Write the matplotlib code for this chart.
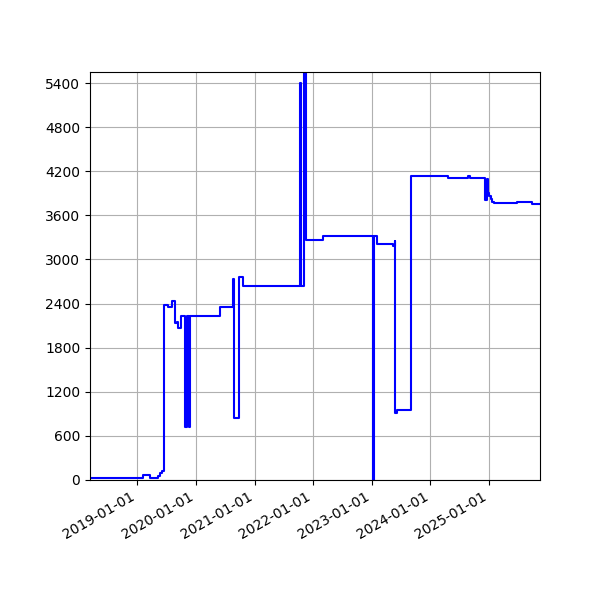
import matplotlib
matplotlib.use("Agg")
import matplotlib.pyplot as plt
import matplotlib.dates as mdates
import pandas as pd

# change points of the series (value holds until the next date)
dates = [
    "2018-03-12", "2019-02-07", "2019-03-21", "2019-05-12", "2019-05-25",
    "2019-06-05", "2019-06-19", "2019-07-13", "2019-08-07", "2019-08-24",
    "2019-09-06", "2019-09-14", "2019-09-28", "2019-10-27", "2019-11-07",
    "2019-11-19", "2019-11-28", "2020-05-30", "2020-08-21", "2020-08-25",
    "2020-09-23", "2020-10-21", "2021-10-10", "2021-10-16", "2021-11-02",
    "2021-11-16", "2022-03-01", "2023-01-10", "2023-01-16", "2023-02-04",
    "2023-05-15", "2023-05-24", "2023-05-28", "2023-06-10", "2023-09-05",
    "2024-04-20", "2024-08-23", "2024-09-02", "2024-12-08", "2024-12-16",
    "2024-12-22", "2024-12-30", "2025-01-10", "2025-01-22", "2025-02-02",
    "2025-06-22", "2025-09-23", "2025-11-14",
]
values = [
    30, 72, 30, 60, 100,
    122, 2380, 2357, 2435, 2131,
    2150, 2063, 2230, 725, 2230,
    725, 2230, 2357, 2730, 848,
    2757, 2635, 5400, 2635, 6000,
    3264, 3323, 0, 3319, 3206,
    3183, 3255, 907, 952, 4139,
    4103, 4139, 4103, 3808, 4094,
    3904, 3863, 3822, 3781, 3765,
    3781, 3750, 3750,
]
yticks = list(range(0, 5401, 600))

x = pd.to_datetime(dates)

fig, ax = plt.subplots(figsize=(6, 6), dpi=100)
fig.subplots_adjust(left=0.15, right=0.9, top=0.88, bottom=0.2)

ax.plot(x, values, color="blue", drawstyle="steps-post")

ax.set_xlim(x[0], x[-1])
ax.set_ylim(0, 5550)
ax.set_yticks(yticks)
ax.xaxis.set_major_locator(mdates.YearLocator())
ax.xaxis.set_major_formatter(mdates.DateFormatter("%Y-%m-%d"))
ax.grid(True)
fig.autofmt_xdate()

fig.savefig("out.png", dpi=100)
